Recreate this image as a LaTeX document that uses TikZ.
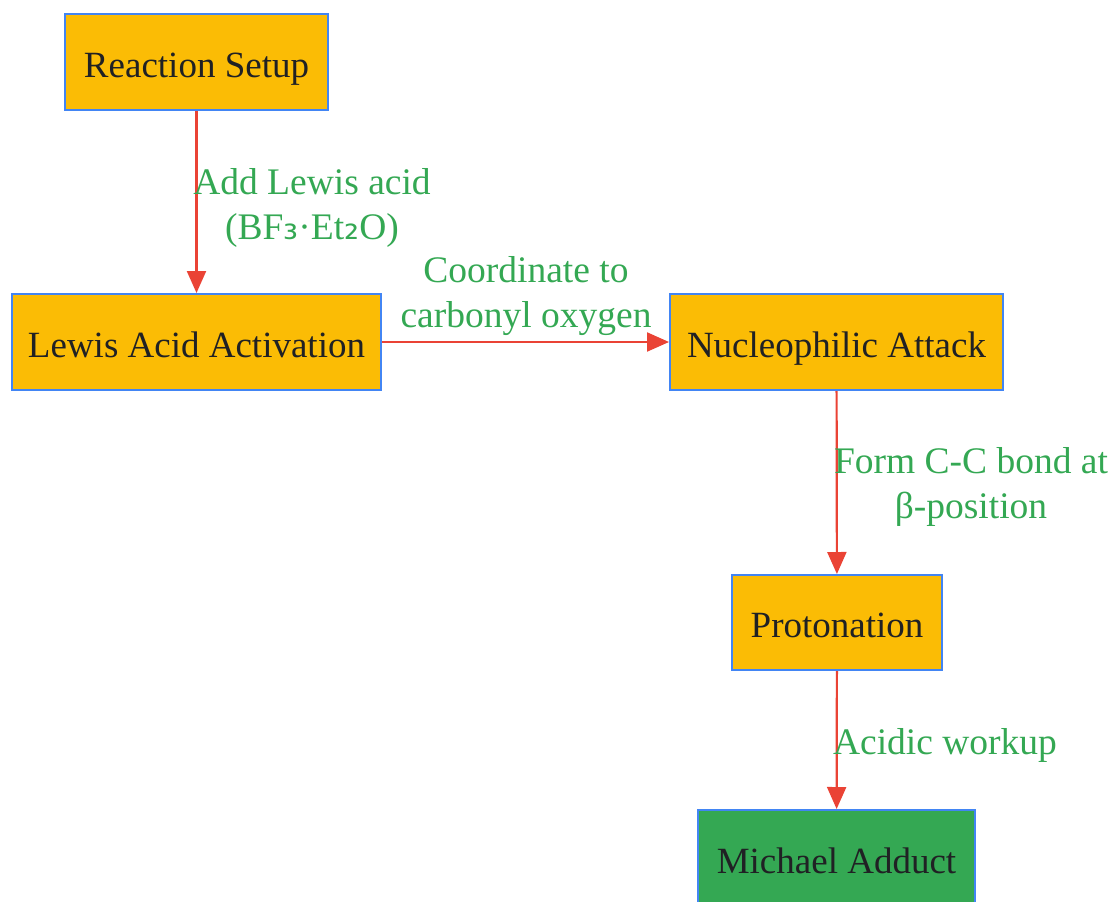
\documentclass[tikz,border=0pt]{standalone}
\usepackage{fontspec}
\setmainfont{Liberation Serif}
\newfontfamily\subfont{DejaVu Sans}
\usetikzlibrary{arrows.meta}
\definecolor{boxfill}{HTML}{FBBC05}
\definecolor{boxline}{HTML}{4285F4}
\definecolor{endfill}{HTML}{34A853}
\definecolor{edgered}{HTML}{EA4335}
\definecolor{labgreen}{HTML}{34A853}
\definecolor{boxtext}{HTML}{202124}
\tikzset{
  stepnode/.style={draw=boxline, line width=2pt, fill=boxfill, text=boxtext,
    minimum height=96pt, inner sep=0pt, text height=30pt, text depth=0pt,
    font=\fontsize{37}{45}\selectfont},
  flow/.style={draw=edgered, line width=2.2pt,
    -{Triangle[length=22pt,width=19pt]}},
  edgelabel/.style={text=labgreen, align=center, inner sep=0pt,
    font=\fontsize{37.5}{45}\selectfont}
}
\begin{document}
\begin{tikzpicture}[x=1pt, y=-1pt]
\useasboundingbox (0,0) rectangle (1111,902);
\node[stepnode, minimum width=263pt] (setup) at (196.5, 62) {Reaction Setup};
\node[stepnode, minimum width=369pt] (lewis) at (196.5, 342) {Lewis Acid Activation};
\node[stepnode, minimum width=333pt] (attack) at (836.5, 342) {Nucleophilic Attack};
\node[stepnode, minimum width=210pt, minimum height=95pt] (proton) at (837, 622.5) {Protonation};
\node[stepnode, minimum width=277pt, fill=endfill] (adduct) at (836.5, 858) {Michael Adduct};
% edges
\draw[flow] (setup) -- (lewis);
\draw[flow] (lewis) -- (attack);
\draw[flow] (attack) -- (proton);
\draw[flow] (proton) -- (adduct);
% labels
\node[edgelabel] (l1) at (312, 208) {Add Lewis acid\\(BF{\subfont ₃}·Et{\subfont ₂}O)};
\node[edgelabel] (l2) at (526, 296) {Coordinate to\\carbonyl oxygen};
\node[edgelabel] (l3) at (971, 487) {Form C-C bond at\\β-position};
\node[edgelabel] (l4) at (945, 745) {Acidic workup};
\end{tikzpicture}
\end{document}
